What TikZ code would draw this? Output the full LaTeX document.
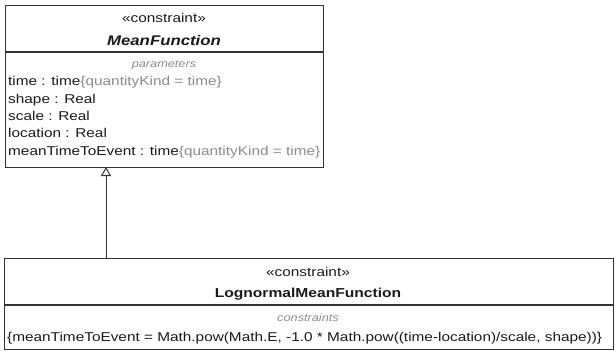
\documentclass[tikz,border=0pt]{standalone}
\usepackage{fontspec}
\setmainfont[FakeStretch=1.2]{Liberation Sans}
\usetikzlibrary{arrows.meta}
\definecolor{txt}{HTML}{1A1A1A}
\definecolor{gr}{HTML}{8C8C8C}
\definecolor{ln}{HTML}{333333}
\begin{document}
\begin{tikzpicture}[x=1pt,y=-1pt,
  box/.style={draw=ln,line width=1.3pt,fill=white,inner sep=0pt,anchor=north west},
  sep/.style={draw=ln,line width=1.1pt},
  lbl/.style={inner sep=0pt,anchor=base west,text=txt,font=\fontsize{12.8}{14}\selectfont},
  ctr/.style={inner sep=0pt,anchor=base,text=txt,font=\fontsize{12.8}{14}\selectfont},
  cmp/.style={inner sep=0pt,anchor=base,text=gr,font=\fontsize{10.6}{12}\selectfont\itshape},
  gen/.style={draw=ln,line width=1pt,-{Triangle[open,length=9pt,width=10pt]}}]
\useasboundingbox (0,0) rectangle (616,351);
% MeanFunction box
\node[box,minimum width=318pt,minimum height=162pt] (mf) at (5,5) {};
\draw[sep] (5,52) coordinate (mfl) -- (323,52) coordinate (mfr);
\node[ctr] (mfs) at (164,22) {«constraint»};
\node[ctr,font=\fontsize{14}{16}\selectfont\bfseries\itshape] (mfn) at (164,45) {MeanFunction};
\node[cmp] (mfc) at (164,67) {parameters};
\node[lbl] (p1) at (8,85) {time : time\textcolor{gr}{\{quantityKind = time\}}};
\node[lbl] (p2) at (8,103) {shape : Real};
\node[lbl] (p3) at (8,120) {scale : Real};
\node[lbl] (p4) at (8,137) {location : Real};
\node[lbl] (p5) at (8,155) {meanTimeToEvent : time\textcolor{gr}{\{quantityKind = time\}}};
% LognormalMeanFunction box
\node[box,minimum width=609pt,minimum height=91pt] (lm) at (4,258) {};
\draw[sep] (4,305) coordinate (lml) -- (613,305) coordinate (lmr);
\node[ctr] (lms) at (308,276) {«constraint»};
\node[ctr,font=\fontsize{13}{16}\selectfont\bfseries] (lmn) at (308,297) {LognormalMeanFunction};
\node[cmp] (lmc) at (308,321) {constraints};
\node[lbl] (f1) at (7,341) {\{meanTimeToEvent = Math.pow(Math.E, -1.0 * Math.pow((time-location)/scale, shape))\}};
% generalization
\coordinate (gs) at (106,258);
\coordinate (ge) at (106,167);
\draw[gen] (gs) -- (ge);
\end{tikzpicture}
\end{document}
